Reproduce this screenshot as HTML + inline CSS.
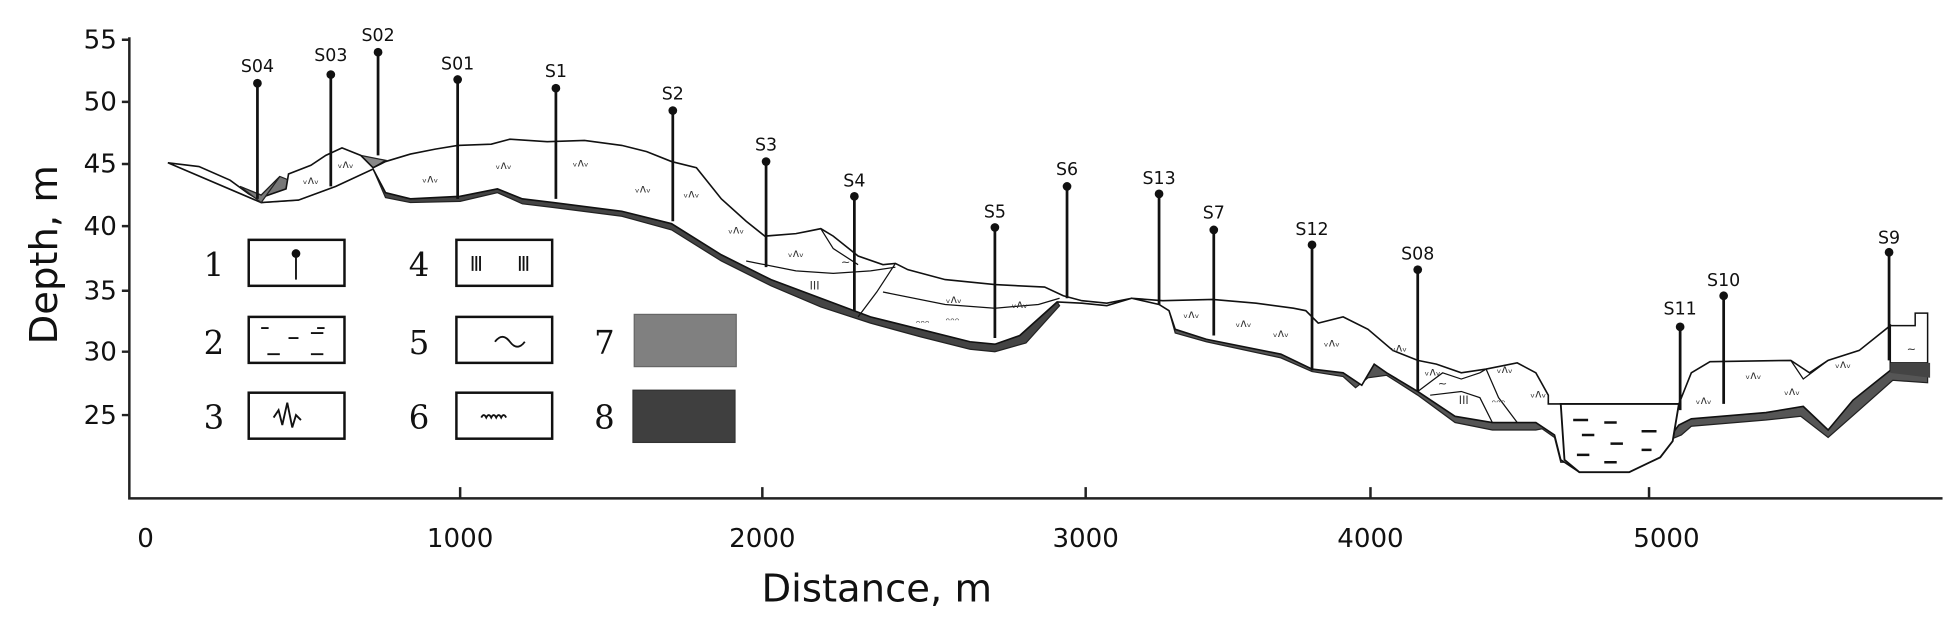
<!DOCTYPE html>
<html><head><meta charset="utf-8"><style>html,body{margin:0;padding:0;background:#fff;}svg{display:block}</style></head>
<body>
<svg width="1950" height="640" viewBox="0 0 1568 515" preserveAspectRatio="none" xmlns="http://www.w3.org/2000/svg" font-family="'DejaVu Sans','Liberation Sans',sans-serif">
<rect width="1568" height="515" fill="#fff"/>
<g stroke="#222" stroke-width="2" fill="none">
<path d="M104,30 V401 H1562"/>
<path d="M98,32H104M98,82H104M98,132H104M98,182H104M98,234H104M98,283H104M98,334H104"/>
<path d="M370,401v-9M613,401v-9M873,401v-9M1102,401v-9M1326,401v-9"/>
</g>
<g font-size="21" fill="#111" text-anchor="end">
<text x="94" y="39">55</text><text x="94" y="89">50</text><text x="94" y="139">45</text><text x="94" y="189">40</text><text x="94" y="241">35</text><text x="94" y="290">30</text><text x="94" y="341">25</text>
</g>
<g font-size="21" fill="#111" text-anchor="middle">
<text x="117" y="440">0</text><text x="370" y="440">1000</text><text x="613" y="440">2000</text><text x="873" y="440">3000</text><text x="1102" y="440">4000</text><text x="1340" y="440">5000</text>
</g>
<text x="705" y="484" font-size="31" text-anchor="middle" fill="#111">Distance, m</text>
<text transform="translate(46,205) rotate(-90)" font-size="31" text-anchor="middle" fill="#111">Depth, m</text>

<path fill="#444" stroke="#222" stroke-width="1" d="M300,136 L310,155 L330,160 L370,158 L400,152 L420,160 L445,163 L500,170 L540,180 L580,205 L620,225 L660,240 L700,255 L740,265 L780,275 L800,277 L820,270 L850,243 L852,246 L825,276 L800,283 L780,281 L740,271 L700,260 L660,247 L620,230 L580,210 L540,185 L500,174 L445,167 L420,164 L400,155 L370,162 L330,163 L310,159 Z"/>
<path fill="#777" stroke="#222" stroke-width="1" d="M193,150 L210,163 L240,161 L270,150 L300,136 L295,130 L270,145 L240,148 L225,142 L210,157 Z"/>
<path fill="#888" stroke="#222" stroke-width="1" d="M290,125 L300,135 L310,129 Z"/>
<path fill="#555" stroke="#222" stroke-width="1" d="M940,250 L945,268 L970,275 L1030,288 L1055,299 L1080,303 L1090,312 L1100,304 L1115,302 L1140,318 L1170,340 L1200,346 L1235,346 L1240,345 L1250,352 L1255,372 L1260,372 L1258,350 L1245,338 L1235,336 L1200,336 L1170,330 L1140,310 L1115,295 L1100,290 L1080,296 L1055,292 L1030,281 L970,268 L945,258 Z"/>
<path fill="#555" stroke="#222" stroke-width="1" d="M1340,355 L1350,342 L1360,337 L1420,332 L1450,327 L1470,346 L1490,322 L1520,297 L1550,300 L1550,308 L1522,306 L1495,330 L1470,352 L1448,335 L1420,338 L1360,343 L1352,350 Z"/>
<path fill="#fff" stroke="#111" stroke-width="1.3" d="M135,131 L160,134 L185,145 L200,156 L207,160 L230,152 L232,140 L250,133 L262,125 L275,119 L290,125 L300,135 L310,130 L330,124 L350,120 L368,117 L395,116 L410,112 L440,114 L470,113 L500,117 L520,122 L540,130 L560,135 L580,160 L600,178 L615,190 L640,188 L650,186 L660,184 L670,190 L690,206 L710,213 L720,212 L730,217 L760,225 L800,229 L840,231 L855,238 L870,242 L890,244 L910,240 L935,242 L975,241 L1010,244 L1040,248 L1050,250 L1060,260 L1080,255 L1100,265 L1120,282 L1140,290 L1155,293 L1175,300 L1195,297 L1220,292 L1235,300 L1245,318 L1245,325 L1350,325 L1360,300 L1375,291 L1440,290 L1455,300 L1470,290 L1495,282 L1520,262 L1520,298 L1490,322 L1470,346 L1450,327 L1420,332 L1360,337 L1350,342 L1340,355 L1335,365 L1310,380 L1270,380 L1255,370 L1250,350 L1235,340 L1200,340 L1170,335 L1140,315 L1115,300 L1105,293 L1095,310 L1080,300 L1055,297 L1030,285 L970,273 L945,265 L940,250 L932,245 L910,240 L890,246 L870,244 L850,243 L820,270 L800,277 L780,275 L740,265 L700,255 L660,240 L620,225 L580,205 L540,180 L500,170 L445,163 L420,160 L400,152 L370,158 L330,160 L310,155 L300,136 L270,150 L240,161 L210,163 Z"/>
<path fill="#777" stroke="#222" stroke-width="1" d="M193,150 L210,163 L225,142 L210,157 Z"/>
<path fill="#fff" stroke="#111" stroke-width="1.2" d="M1520,262 L1540,262 L1540,252 L1550,252 L1550,292 L1520,292 Z"/>
<path fill="#444" d="M1520,292 L1552,292 L1552,304 L1520,300 Z"/>
<path fill="#fff" stroke="#111" stroke-width="1.5" d="M1255,325 L1350,325 L1345,355 L1335,368 L1310,380 L1270,380 L1258,370 Z"/>
<g stroke="#111" stroke-width="2"><path d="M1265,338h12M1290,340h10M1320,347h12M1272,350h10M1295,357h10M1268,366h10M1290,372h10M1320,362h8"/></g>
<g stroke="#111" stroke-width="1" fill="none">
<path d="M600,210 L640,218 L670,220 L700,218 L720,215 M660,184 L670,200 L690,213 M720,212 L705,235 L690,255 M710,235 L760,245 L800,248 L835,245 L852,240 M1140,315 L1160,300 L1175,305 L1190,300 L1195,297 M1150,318 L1175,315 L1190,320 L1200,340 M1195,297 L1205,320 L1220,340 M1440,290 L1450,305 L1470,290"/>
</g>
<g font-size="9" fill="#333" text-anchor="middle">
<text x="250" y="148">ᵥᴧᵥ</text><text x="278" y="135">ᵥᴧᵥ</text><text x="346" y="147">ᵥᴧᵥ</text><text x="405" y="136">ᵥᴧᵥ</text><text x="467" y="134">ᵥᴧᵥ</text><text x="517" y="155">ᵥᴧᵥ</text><text x="556" y="159">ᵥᴧᵥ</text><text x="592" y="188">ᵥᴧᵥ</text><text x="640" y="207">ᵥᴧᵥ</text><text x="767" y="244">ᵥᴧᵥ</text><text x="820" y="248">ᵥᴧᵥ</text><text x="958" y="256">ᵥᴧᵥ</text><text x="1000" y="263">ᵥᴧᵥ</text><text x="1030" y="271">ᵥᴧᵥ</text><text x="1071" y="279">ᵥᴧᵥ</text><text x="1125" y="283">ᵥᴧᵥ</text><text x="1152" y="302">ᵥᴧᵥ</text><text x="1210" y="300">ᵥᴧᵥ</text><text x="1237" y="320">ᵥᴧᵥ</text><text x="1370" y="325">ᵥᴧᵥ</text><text x="1410" y="305">ᵥᴧᵥ</text><text x="1441" y="318">ᵥᴧᵥ</text><text x="1482" y="296">ᵥᴧᵥ</text>
<text x="655" y="233">III</text><text x="1177" y="325">III</text><text x="680" y="214">~</text><text x="1537" y="284">~</text><text x="1160" y="312">~</text>
<text x="742" y="264">ᵔᵔᵔ</text><text x="766" y="262">ᵔᵔᵔ</text><text x="1205" y="328">ᵔᵔᵔ</text>
</g>
<g stroke="#111" stroke-width="2.2">
<path d="M207,67V160M266,60V150M304,42V125M368,64V160M447,71V160M541,89V178M616,130V215M687,158V250M800,183V272M858,150V240M932,156V245M976,185V270M1055,197V298M1140,217V315M1351,263V330M1386,238V325M1519,203V290"/>
</g>
<g fill="#111">
<circle cx="207" cy="67" r="3.5"/><circle cx="266" cy="60" r="3.5"/><circle cx="304" cy="42" r="3.5"/><circle cx="368" cy="64" r="3.5"/><circle cx="447" cy="71" r="3.5"/><circle cx="541" cy="89" r="3.5"/><circle cx="616" cy="130" r="3.5"/><circle cx="687" cy="158" r="3.5"/><circle cx="800" cy="183" r="3.5"/><circle cx="858" cy="150" r="3.5"/><circle cx="932" cy="156" r="3.5"/><circle cx="976" cy="185" r="3.5"/><circle cx="1055" cy="197" r="3.5"/><circle cx="1140" cy="217" r="3.5"/><circle cx="1351" cy="263" r="3.5"/><circle cx="1386" cy="238" r="3.5"/><circle cx="1519" cy="203" r="3.5"/>
</g>
<g font-size="14" fill="#111" text-anchor="middle">
<text x="207" y="58">S04</text><text x="266" y="49">S03</text><text x="304" y="33">S02</text><text x="368" y="56">S01</text><text x="447" y="62">S1</text><text x="541" y="80">S2</text><text x="616" y="121">S3</text><text x="687" y="150">S4</text><text x="800" y="175">S5</text><text x="858" y="141">S6</text><text x="932" y="148">S13</text><text x="976" y="176">S7</text><text x="1055" y="189">S12</text><text x="1140" y="209">S08</text><text x="1351" y="253">S11</text><text x="1386" y="230">S10</text><text x="1519" y="196">S9</text>
</g>
<g font-family="'DejaVu Serif','Liberation Serif',serif" font-size="26" fill="#111" text-anchor="middle">
<text x="172" y="222">1</text><text x="172" y="285">2</text><text x="172" y="345">3</text>
<text x="337" y="222">4</text><text x="337" y="285">5</text><text x="337" y="345">6</text>
<text x="486" y="285">7</text><text x="486" y="345">8</text>
</g>
<g fill="#fff" stroke="#111" stroke-width="2">
<rect x="200" y="193" width="77" height="37"/><rect x="200" y="255" width="77" height="37"/><rect x="200" y="316" width="77" height="37"/>
<rect x="367" y="193" width="77" height="37"/><rect x="367" y="255" width="77" height="37"/><rect x="367" y="316" width="77" height="37"/>
</g>
<rect x="510" y="253" width="82" height="42" fill="#808080" stroke="#666"/>
<rect x="509" y="314" width="82" height="42" fill="#3f3f3f" stroke="#333"/>
<g stroke="#111" stroke-width="1.5" fill="none">
<path d="M238,205V225"/><path d="M210,264h6M232,272h8M250,268h10M215,285h10M250,285h10M255,264h6"/>
<path d="M220,336l4,-6 3,12 4,-18 4,20 3,-10 4,4"/>
<path d="M380,206v12M383,206v12M386,206v12M418,206v12M421,206v12M424,206v12"/>
<path d="M398,275q6,-8 12,0t12,0"/>
<path d="M387,336q2,-4 4,0q2,-4 4,0q2,-4 4,0q2,-4 4,0q2,-4 4,0"/>
</g>
<circle cx="238" cy="204" r="3.5" fill="#111"/>
</svg>
</body></html>
